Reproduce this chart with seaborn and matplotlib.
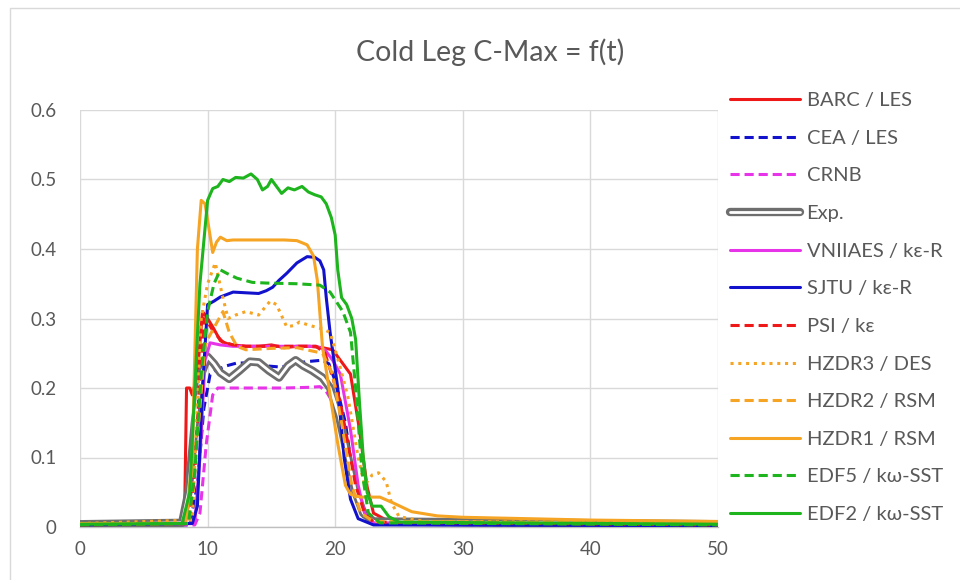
import numpy as np
import pandas as pd
import matplotlib
matplotlib.use("Agg")
import matplotlib.pyplot as plt
import matplotlib.patheffects as pe
from matplotlib.patches import Rectangle
import seaborn as sns

# ---------------- data ----------------
title = "Cold Leg C-Max = f(t)"
labels = ["BARC / LES", "CEA / LES", "CRNB", "Exp.", "VNIIAES / kε-R", "SJTU / kε-R",
          "PSI / kε", "HZDR3 / DES", "HZDR2 / RSM", "HZDR1 / RSM", "EDF5 / kω-SST", "EDF2 / kω-SST"]
x_ticks = [0, 10, 20, 30, 40, 50]
y_ticks = [0, 0.1, 0.2, 0.3, 0.4, 0.5, 0.6]
y_tick_labels = ["0", "0.1", "0.2", "0.3", "0.4", "0.5", "0.6"]

barc_t = [0, 8.0, 8.2, 8.35, 8.6, 8.8, 9.2, 9.6, 10.0, 10.4, 11.0, 11.5, 12, 13, 14, 15, 16, 17, 18, 19,
          19.8, 20.4, 21.2, 21.9, 22.5, 23.0, 24, 26, 30, 50]
barc_y = [0.004, 0.004, 0.02, 0.20, 0.20, 0.19, 0.22, 0.31, 0.30, 0.288, 0.268, 0.264, 0.262, 0.26, 0.26,
          0.262, 0.258, 0.26, 0.26, 0.258, 0.255, 0.24, 0.22, 0.14, 0.058, 0.02, 0.01, 0.006, 0.004, 0.003]

cea_t = [0, 8.6, 9.2, 9.7, 10.2, 10.7, 11.5, 12.3, 13.3, 14.5, 15.8, 16.8, 17.8, 19, 19.5, 20, 20.8,
         21.5, 22.2, 23, 50]
cea_y = [0.003, 0.003, 0.06, 0.17, 0.22, 0.226, 0.232, 0.236, 0.236, 0.232, 0.23, 0.235, 0.238, 0.24,
         0.235, 0.21, 0.15, 0.06, 0.015, 0.004, 0.002]

crnb_t = [0, 9.0, 9.4, 9.9, 10.4, 10.8, 12, 14, 16, 18, 18.8, 19.3, 19.8, 20.5, 21.3, 22, 22.8, 50]
crnb_y = [0.003, 0.003, 0.02, 0.12, 0.19, 0.2, 0.2, 0.2, 0.2, 0.201, 0.202, 0.195, 0.18, 0.14, 0.07,
          0.025, 0.008, 0.003]

exp_t = [0, 8.0, 8.5, 9.0, 9.5, 10.0, 10.5, 11.0, 11.7, 12.5, 13.3, 14.0, 14.8, 15.6, 16.3, 16.9, 17.5,
         18.2, 19.0, 19.6, 20.3, 21.0, 21.6, 22.2, 23.0, 50]
exp_y = [0.004, 0.006, 0.05, 0.15, 0.22, 0.245, 0.235, 0.222, 0.213, 0.225, 0.238, 0.237, 0.225, 0.215,
         0.232, 0.24, 0.232, 0.225, 0.215, 0.2, 0.16, 0.1, 0.05, 0.02, 0.008, 0.004]

vniiaes_t = [0, 9.0, 9.4, 9.8, 10.2, 11, 12, 14, 16, 18.5, 19.2, 19.8, 20.4, 21.2, 21.8, 22.3, 23, 50]
vniiaes_y = [0.004, 0.005, 0.1, 0.24, 0.265, 0.262, 0.26, 0.26, 0.26, 0.26, 0.255, 0.24, 0.22, 0.14,
             0.06, 0.02, 0.006, 0.003]

sjtu_t = [0, 8.8, 9.2, 9.6, 10.0, 10.5, 11, 12, 13, 14, 14.6, 15.1, 15.6, 16.2, 17, 17.8, 18.4, 18.8,
          19.1, 19.3, 19.6, 20.2, 20.7, 21.2, 21.8, 23, 50]
sjtu_y = [0.003, 0.005, 0.03, 0.2, 0.32, 0.325, 0.331, 0.338, 0.337, 0.336, 0.34, 0.345, 0.355, 0.365,
          0.38, 0.389, 0.388, 0.383, 0.37, 0.33, 0.28, 0.2, 0.1, 0.04, 0.012, 0.003, 0.002]

psi_t = [0, 8.6, 9.0, 9.4, 9.7, 10.0, 10.5, 11.2, 12, 13, 15, 17, 18.5, 19.2, 19.8, 20.4, 21.0, 21.6,
         22.3, 23, 50]
psi_y = [0.003, 0.005, 0.08, 0.22, 0.30, 0.295, 0.28, 0.266, 0.262, 0.26, 0.26, 0.26, 0.26, 0.25,
         0.215, 0.18, 0.12, 0.06, 0.02, 0.007, 0.003]

hzdr3_t = [0, 8.8, 9.5, 10.0, 10.6, 11.2, 11.6, 12.2, 13, 14, 14.9, 15.4, 16.2, 16.8, 17.2, 18, 19,
           19.6, 20.3, 21.0, 21.8, 22.3, 22.9, 23.4, 24.0, 24.4, 25, 27, 50]
hzdr3_y = [0.005, 0.01, 0.30, 0.35, 0.38, 0.33, 0.30, 0.305, 0.31, 0.305, 0.325, 0.32, 0.288, 0.29,
           0.295, 0.29, 0.285, 0.28, 0.236, 0.187, 0.1, 0.06, 0.075, 0.078, 0.065, 0.035, 0.015, 0.008,
           0.006]

hzdr2_t = [0, 8.5, 9.3, 9.8, 10.0, 10.6, 11.2, 11.7, 12.3, 13, 15, 17, 19, 19.8, 20.5, 21.3, 22, 23, 50]
hzdr2_y = [0.004, 0.005, 0.15, 0.26, 0.27, 0.29, 0.31, 0.28, 0.26, 0.255, 0.257, 0.258, 0.25, 0.22,
           0.15, 0.06, 0.02, 0.008, 0.005]

hzdr1_t = [0, 8.3, 8.8, 9.2, 9.5, 9.8, 10.1, 10.4, 10.7, 11.0, 11.5, 12, 14, 16, 17, 17.8, 18.3, 18.6,
           19.0, 19.6, 20.2, 20.8, 21.2, 22, 23.5, 24.5, 26, 28, 30, 35, 40, 50]
hzdr1_y = [0.005, 0.005, 0.1, 0.4, 0.47, 0.465, 0.43, 0.395, 0.41, 0.417, 0.412, 0.413, 0.413, 0.413,
           0.412, 0.406, 0.39, 0.355, 0.26, 0.19, 0.12, 0.06, 0.047, 0.043, 0.043, 0.035, 0.022, 0.016,
           0.014, 0.012, 0.01, 0.008]

edf5_t = [0, 8.5, 9.0, 9.5, 10, 10.5, 11.0, 11.5, 12.3, 13.5, 14.6, 17, 18.8, 19.6, 20.1, 20.6, 21.2,
          21.6, 22.1, 22.6, 23.5, 50]
edf5_y = [0.003, 0.005, 0.08, 0.22, 0.31, 0.35, 0.37, 0.365, 0.358, 0.352, 0.351, 0.35, 0.348, 0.338,
          0.324, 0.31, 0.28, 0.2, 0.08, 0.02, 0.006, 0.003]

edf2_t = [0, 8.0, 8.6, 9.0, 9.4, 9.7, 10.0, 10.4, 10.8, 11.2, 11.7, 12.2, 12.8, 13.4, 13.9, 14.3, 14.7,
          15.0, 15.4, 15.8, 16.3, 16.8, 17.4, 17.9, 18.4, 18.9, 19.3, 19.7, 20.0, 20.2, 20.5, 20.9, 21.3,
          21.6, 21.9, 22.2, 22.5, 22.9, 23.6, 24.2, 25, 50]
edf2_y = [0.004, 0.005, 0.05, 0.2, 0.35, 0.41, 0.47, 0.487, 0.49, 0.5, 0.497, 0.503, 0.502, 0.508, 0.5,
          0.485, 0.49, 0.5, 0.49, 0.48, 0.488, 0.485, 0.49, 0.482, 0.478, 0.475, 0.465, 0.445, 0.42,
          0.37, 0.33, 0.32, 0.3, 0.27, 0.18, 0.1, 0.05, 0.03, 0.03, 0.015, 0.007, 0.004]

series_t = [barc_t, cea_t, crnb_t, exp_t, vniiaes_t, sjtu_t, psi_t, hzdr3_t, hzdr2_t, hzdr1_t, edf5_t, edf2_t]
series_y = [barc_y, cea_y, crnb_y, exp_y, vniiaes_y, sjtu_y, psi_y, hzdr3_y, hzdr2_y, hzdr1_y, edf5_y, edf2_y]

# ---------------- styles ----------------
RED = "#ee1818"
BLUE = "#1212cc"
MAG = "#e834e8"
GRAY = "#6e6e6e"
ORANGE = "#f5a423"
GREEN = "#1db41d"
DASH = (0, (3, 1.6))
DOT = (0, (1, 1.55))
styles = {
    "BARC / LES": (RED, "-"),
    "CEA / LES": (BLUE, DASH),
    "CRNB": (MAG, DASH),
    "Exp.": (GRAY, "-"),
    "VNIIAES / kε-R": (MAG, "-"),
    "SJTU / kε-R": (BLUE, "-"),
    "PSI / kε": (RED, DASH),
    "HZDR3 / DES": (ORANGE, DOT),
    "HZDR2 / RSM": (ORANGE, DASH),
    "HZDR1 / RSM": (ORANGE, "-"),
    "EDF5 / kω-SST": (GREEN, DASH),
    "EDF2 / kω-SST": (GREEN, "-"),
}

sns.set_theme(style="white")
FONT = ["Lato", "Noto Sans", "DejaVu Sans"]
plt.rcParams["font.family"] = FONT
TXT = "#595959"

fig = plt.figure(figsize=(9.6, 5.8), dpi=100)
# outer chart border
fig.patches.append(Rectangle((10 / 960, -0.05), 1.2, 1 - 8 / 580 + 0.05, transform=fig.transFigure,
                             fill=False, edgecolor="#d9d9d9", linewidth=1.0, zorder=0))
ax = fig.add_axes([80 / 960, 53 / 580, 638 / 960, 417 / 580])

rows = []
for lab, tt, yy in zip(labels, series_t, series_y):
    for a, b in zip(tt, yy):
        rows.append((lab, a, b))
df = pd.DataFrame(rows, columns=["series", "t", "c"])

for i, lab in enumerate(labels):
    col, ls = styles[lab]
    sub = df[df["series"] == lab]
    if lab == "Exp.":
        sns.lineplot(data=sub, x="t", y="c", ax=ax, color="white", linewidth=2.0, label=lab,
                     estimator=None, sort=False, zorder=3 + i * 0.01,
                     path_effects=[pe.Stroke(linewidth=6.0, foreground=GRAY), pe.Normal()])
    else:
        sns.lineplot(data=sub, x="t", y="c", ax=ax, color=col, linewidth=2.2, linestyle=ls, label=lab,
                     estimator=None, sort=False, zorder=3 + i * 0.01)

ax.set_xlim(0, 50)
ax.set_ylim(0, 0.6)
ax.set_xticks(x_ticks)
ax.set_xticklabels([str(v) for v in x_ticks])
ax.set_yticks(y_ticks)
ax.set_yticklabels(y_tick_labels)
ax.set_xlabel("")
ax.set_ylabel("")
ax.grid(True, color="#d9d9d9", linewidth=1.0)
ax.set_axisbelow(True)
for s in ["top", "right", "left"]:
    ax.spines[s].set_visible(False)
ax.spines["bottom"].set_color("#bfbfbf")
ax.spines["bottom"].set_linewidth(1.0)
ax.tick_params(axis="both", length=0, labelsize=13.5, labelcolor=TXT)
ax.tick_params(axis="y", pad=17)
ax.tick_params(axis="x", pad=10)

fig.text(490 / 960, 1 - 52 / 580, title, ha="center", va="center", fontsize=20.5, color=TXT, family=FONT)

handles, labs = ax.get_legend_handles_labels()
ax.legend(handles, labs, loc="upper left", bbox_to_anchor=(730 / 960, 1 - 92 / 580),
          bbox_transform=fig.transFigure, frameon=False, fontsize=14.5, labelcolor=TXT,
          handlelength=3.5, handletextpad=0.3, labelspacing=1.02, borderpad=0, borderaxespad=0)

fig.savefig("out.png", dpi=100)
